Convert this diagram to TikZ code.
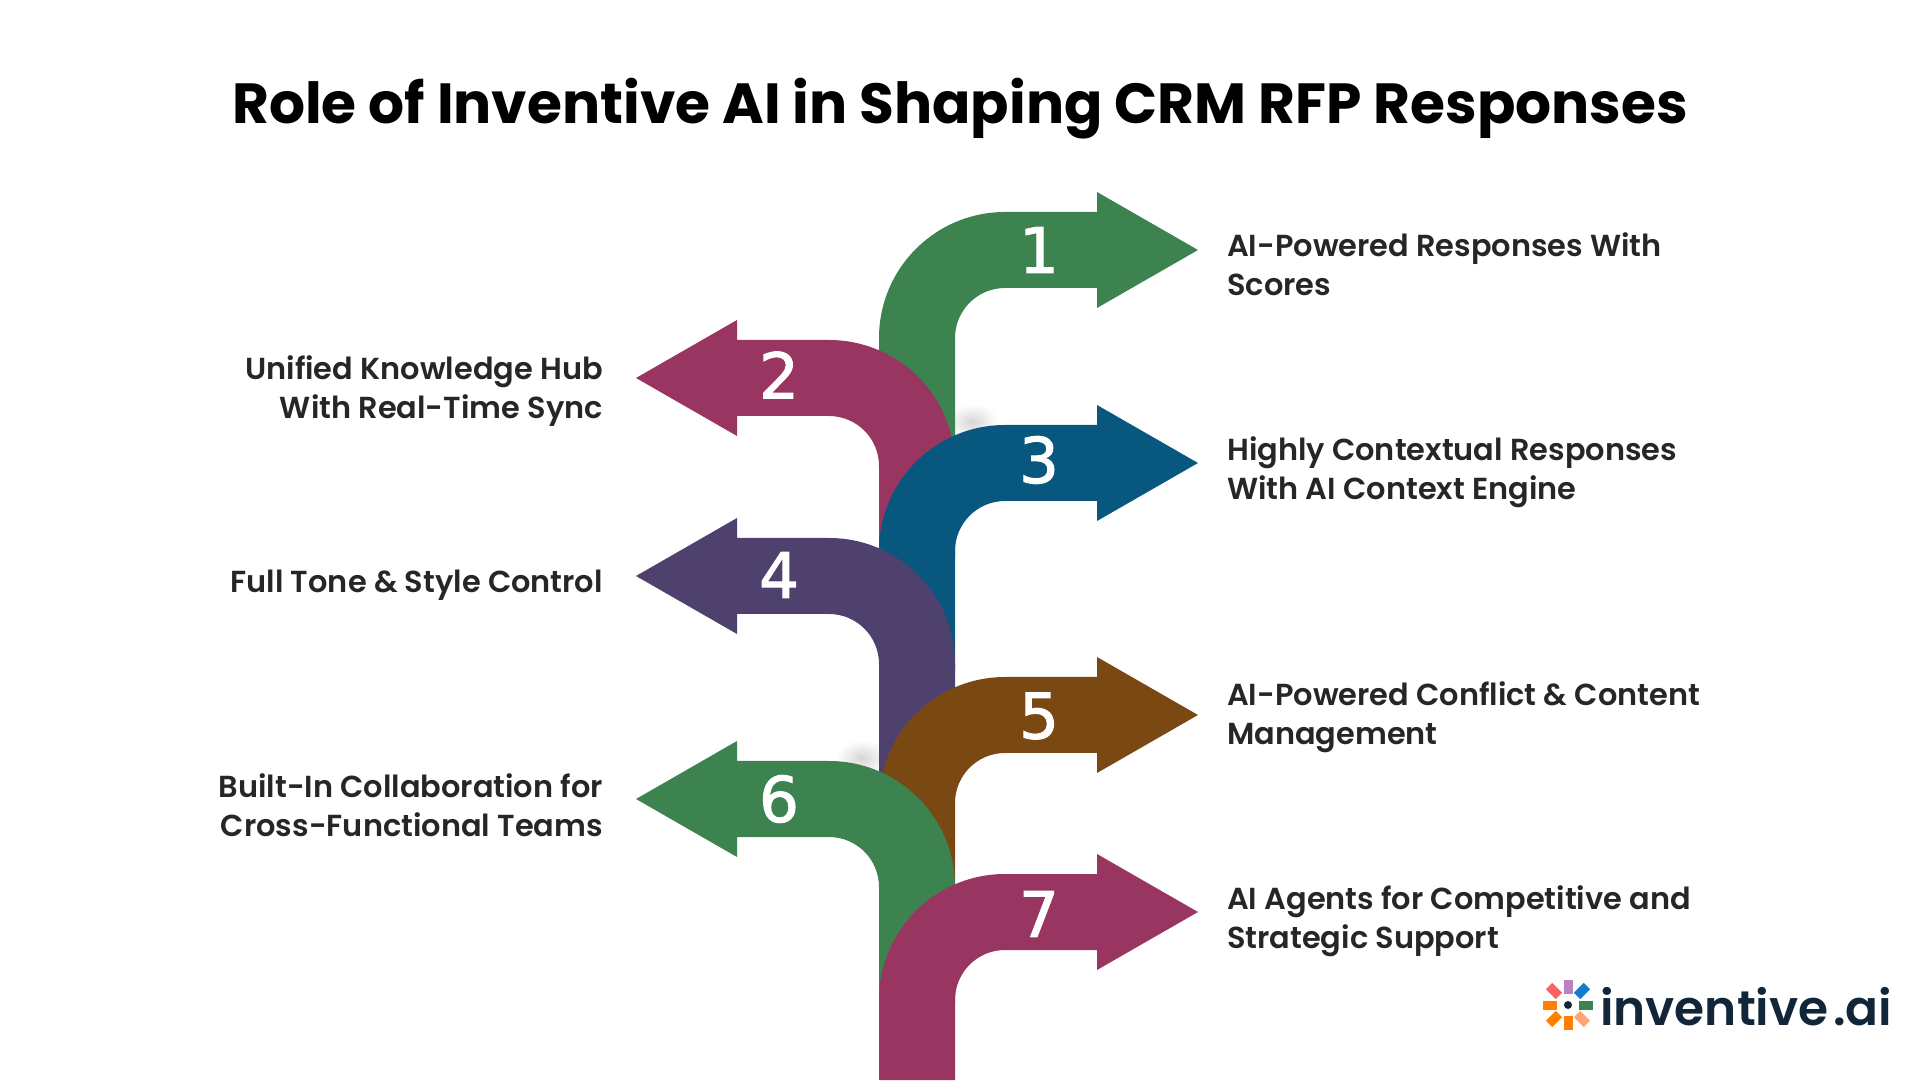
\documentclass[tikz,border=0pt]{standalone}
\usepackage{fontspec}
\setmainfont{Poppins}
\newfontfamily\labelfont{Poppins SemiBold}
\newfontfamily\numfont{DejaVu Sans}[FakeBold=1.6]
\definecolor{arrowgreen}{HTML}{3C834F}
\definecolor{arrowrose}{HTML}{983561}
\definecolor{arrowblue}{HTML}{07577F}
\definecolor{arrowpurple}{HTML}{4F416D}
\definecolor{arrowbrown}{HTML}{7A4813}
\definecolor{logonavy}{HTML}{12263A}
\tikzset{
  pics/bentarrow/.style={code={
    \path[pic actions] (-38,-#1) -- (-38,-88) arc[start angle=180,end angle=90,radius=126]
      -- (180,38) -- (180,58) -- (281,0) -- (180,-58) -- (180,-38) -- (88,-38)
      arc[start angle=90,end angle=180,radius=50] -- (38,-#1) -- cycle;
  }}
}
\tikzset{
  num/.style={
    text=white,
    inner sep=0,
    font=\numfont\fontsize{63}{63}\selectfont
  }
}
\tikzset{
  lefttext/.style={
    anchor=east,
    align=right,
    inner sep=0,
    text=black!85,
    font=\labelfont\fontsize{30.4}{38.6}\selectfont
  }
}
\tikzset{
  righttext/.style={
    anchor=west,
    align=left,
    inner sep=0,
    text=black!85,
    font=\labelfont\fontsize{30.4}{38.6}\selectfont
  }
}
\tikzset{logopiece/.style={inner sep=0,minimum width=14,minimum height=9}}
\tikzset{softshade/.style={inner color=black!16,outer color=white}}

\begin{document}
\begin{tikzpicture}[x=1pt,y=1pt]
\useasboundingbox (0,0) rectangle (1920,1080);

\node[inner sep=0,font=\bfseries\fontsize{56.6}{58}\selectfont] (title) at (960,971) {Role of Inventive AI in Shaping CRM RFP Responses};

\shade[softshade] (972,658) ellipse [x radius=26,y radius=18];
\shade[softshade] (862,322) ellipse [x radius=26,y radius=18];

\pic[fill=arrowgreen] at (917,830) {bentarrow=200};
\pic[fill=arrowrose,xscale=-1] at (917,702) {bentarrow=178};
\pic[fill=arrowblue] at (917,617) {bentarrow=207};
\pic[fill=arrowpurple,xscale=-1] at (917,504) {bentarrow=204};
\pic[fill=arrowbrown] at (917,365) {bentarrow=173};
\pic[fill=arrowgreen,xscale=-1] at (917,281) {bentarrow=204};
\pic[fill=arrowrose] at (917,168) {bentarrow=168};

\node[num] (n1) at (1039,830) {1};
\node[num] (n2) at (779,705) {2};
\node[num] (n3) at (1039,620) {3};
\node[num] (n4) at (779,505) {4};
\node[num] (n5) at (1039,364) {5};
\node[num] (n6) at (779,281) {6};
\node[num] (n7) at (1039,166) {7};

\node[righttext] (t1) at (1227,816) {AI-Powered Responses With\\Scores};
\node[lefttext] (t2) at (603,689) {Unified Knowledge Hub\\With Real-Time Sync};
\node[righttext] (t3) at (1227,608) {Highly Contextual Responses\\With AI Context Engine};
\node[lefttext] (t4) at (603,495) {Full Tone \& Style Control};
\node[righttext] (t5) at (1227,363) {AI-Powered Conflict \& Content\\Management};
\node[lefttext] (t6) at (603,275) {Built-In Collaboration for\\Cross-Functional Teams};
\node[righttext] (t7) at (1227,159) {AI Agents for Competitive and\\Strategic Support};

\node[logopiece,fill=violet!50,rotate=90] (p1) at (1568,93) {};
\node[logopiece,fill=cyan!60!blue,rotate=45] (p2) at (1582,89) {};
\node[logopiece,fill=arrowgreen,rotate=0] (p3) at (1586,75) {};
\node[logopiece,fill=orange!40!pink,rotate=-45] (p4) at (1582,61) {};
\node[logopiece,fill=orange,rotate=90] (p5) at (1568,57) {};
\node[logopiece,fill=orange,rotate=45] (p6) at (1554,61) {};
\node[logopiece,fill=orange,rotate=0] (p7) at (1550,75) {};
\node[logopiece,fill=red!50!pink,rotate=-45] (p8) at (1554,89) {};
\node[circle,fill=logonavy,inner sep=0,minimum size=8] (p0) at (1568,75) {};
\node[anchor=base west,inner sep=0,text=logonavy,font=\labelfont\fontsize{48.6}{50}\selectfont] (logo) at (1600,55) {inventive \hspace{-7pt}.ai};

\end{tikzpicture}
\end{document}
